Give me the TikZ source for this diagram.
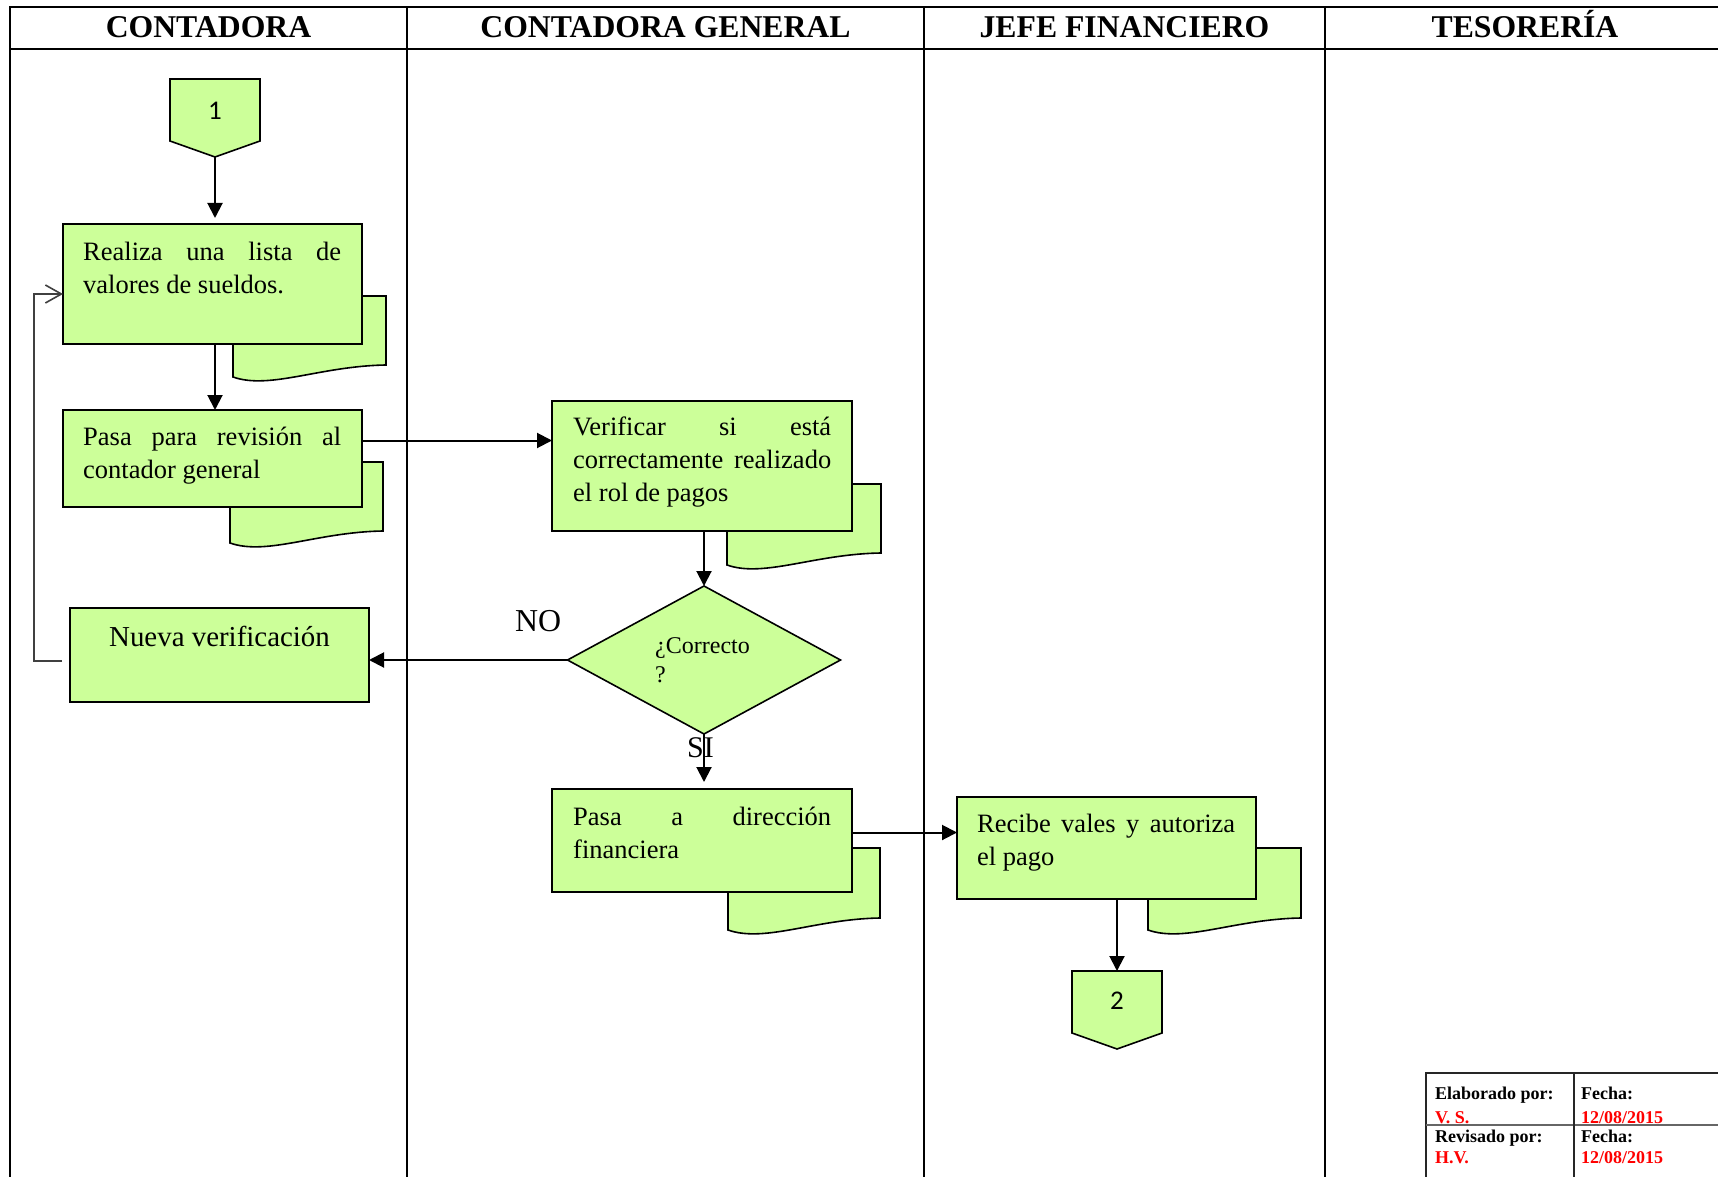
\documentclass[tikz,border=0pt]{standalone}
\usepackage{fontspec}
\setmainfont{Liberation Serif}
\newfontfamily\numfont{Carlito}
\usetikzlibrary{shapes.geometric,arrows.meta}
\definecolor{lgreen}{RGB}{204,255,153}
\newcommand\docshadow[4]{\draw[docst] ({#1},{#3}) -- ({#2},{#3}) -- ({#2},{#4-12}) .. controls ({#1+87},{#4-11}) and ({#1+37},{#4+13}) .. ({#1},{#4}) -- cycle;}
\begin{document}
\begin{tikzpicture}[x=1pt,y=-1pt,
  lane/.style={line width=2pt},
  box/.style={draw, fill=lgreen, line width=1.6pt, inner sep=0, outer sep=0, anchor=north west},
  docst/.style={draw, fill=lgreen, line width=1.6pt},
  txt/.style={text width=258pt, align=justify, inner sep=0, anchor=base west, font=\fontsize{26.5}{33}\selectfont},
  hdr/.style={anchor=base, inner sep=0, font=\fontsize{31.7}{38}\selectfont\bfseries},
  arr/.style={line width=2pt, -{Triangle[length=15pt,width=15pt]}},
  loopln/.style={line width=1.4pt, black!75, -{Straight Barb[length=16pt,width=18pt,line width=1.6pt]}},
  conn/.style={draw, fill=lgreen, line width=1.6pt},
  connbox/.style={minimum width=90pt, minimum height=78pt, inner sep=0, outer sep=0},
  num/.style={font=\numfont\fontsize{27}{30}\selectfont, inner sep=0},
  tab/.style={anchor=base west, inner sep=0, font=\fontsize{18}{20}\selectfont\bfseries},
  lbl/.style={anchor=base west, inner sep=0},
]
\fill[white] (0,0) rectangle (1718,1177);
\useasboundingbox (0,0) rectangle (1718,1177);
\clip (0,0) rectangle (1718,1177);

% lanes
\draw[lane] (10,1190) -- (10,7.5) -- (1730,7.5);
\draw[lane] (10,49) -- (1730,49);
\draw[lane] (407,7.5) -- (407,1190);
\draw[lane] (924,7.5) -- (924,1190);
\draw[lane] (1325,7.5) -- (1325,1190);
\node[hdr] (h1) at (208.5,38) {CONTADORA};
\node[hdr] (h2) at (665.5,38) {CONTADORA GENERAL};
\node[hdr] (h3) at (1124.5,38) {JEFE FINANCIERO};
\node[hdr] (h4) at (1525,38) {TESORERÍA};

% document shadows
\docshadow{233}{386}{296}{377}
\docshadow{230}{383}{462}{543}
\docshadow{727}{881}{484}{565}
\docshadow{728}{880}{848}{930}
\docshadow{1148}{1301}{848}{930}

% boxes
\node[box, minimum width=299pt, minimum height=120pt] (b1) at (63,224) {};
\node[box, minimum width=299pt, minimum height=97pt] (b2) at (63,410) {};
\node[box, minimum width=300pt, minimum height=130pt] (ver) at (552,401) {};
\node[box, minimum width=300pt, minimum height=103pt] (pa) at (552,789) {};
\node[box, minimum width=299pt, minimum height=102pt] (rec) at (957,797) {};
\node[box, minimum width=299pt, minimum height=94pt] (nv) at (70,608) {};

\node[txt] (t1) at ([shift={(20,36)}]b1.north west) {Realiza una lista de\linebreak valores de sueldos.};
\node[txt] (t2) at ([shift={(20,35)}]b2.north west) {Pasa para revisión al\linebreak contador general};
\node[txt] (t3) at ([shift={(21,34)}]ver.north west) {Verificar si está\linebreak correctamente realizado\linebreak el rol de pagos};
\node[txt] (t4) at ([shift={(21,36)}]pa.north west) {Pasa a dirección\linebreak financiera};
\node[txt] (t5) at ([shift={(20,35)}]rec.north west) {Recibe vales y autoriza\linebreak el pago};
\node[anchor=base, inner sep=0, font=\fontsize{28.9}{34}\selectfont] (t6) at ([shift={(0,38)}]nv.north) {Nueva verificación};

% decision
\node[draw, fill=lgreen, shape=diamond, minimum width=273pt, minimum height=148pt, inner sep=0, outer sep=0, line width=1.6pt] (dia) at (704,660) {};
\node[lbl, text width=100pt, align=left, font=\fontsize{24}{29}\selectfont] (tdia) at (655,653) {¿Correcto\\?};
\node[lbl, font=\fontsize{31.9}{36}\selectfont] (lno) at (515,631) {NO};
\node[lbl, font=\fontsize{30}{34}\selectfont] (lsi) at (687,757) {SI};

% off-page connectors
\node[connbox] (c1) at (215,118) {};
\draw[conn] (c1.north west) -- (c1.north east) -- ([shift={(0,-16)}]c1.south east) -- (c1.south) -- ([shift={(0,-16)}]c1.south west) -- cycle;
\node[num] (n1) at ([shift={(0,32)}]c1.north) {1};
\node[connbox] (c2) at (1117,1010) {};
\draw[conn] (c2.north west) -- (c2.north east) -- ([shift={(0,-16)}]c2.south east) -- (c2.south) -- ([shift={(0,-16)}]c2.south west) -- cycle;
\node[num] (n2) at ([shift={(0,30)}]c2.north) {2};

% connectors
\draw[arr, shorten >=6pt] (c1.south) -- (c1.south |- b1.north);
\draw[arr] (c1.south |- b1.south) -- (c1.south |- b2.north);
\coordinate (a3) at ([shift={(0,-18)}]b2.east);
\draw[arr] (a3) -- (a3 -| ver.west);
\draw[arr] (dia.north |- ver.south) -- (dia.north);
\draw[arr] (dia.west) -- (dia.west -| nv.east);
\draw[arr, shorten >=7pt] (dia.south) -- (dia.south |- pa.north);
\coordinate (a7) at ([shift={(0,-8)}]pa.east);
\draw[arr] (a7) -- (a7 -| rec.west);
\draw[arr] (c2.north |- rec.south) -- (c2.north);
\coordinate (l1) at ([shift={(-8,6)}]nv.west);
\coordinate (l2) at ([shift={(0,10)}]b1.west);
\draw[loopln] (l1) -- ++(-28,0) |- (l2);

% sign-off table
\node[tab] (e1) at (1435,1099) {Elaborado por:};
\node[tab, red] (e2) at (1435,1123) {V. S.};
\node[tab] (e3) at (1581,1099) {Fecha:};
\node[tab, red] (e4) at (1581,1123) {12/08/2015};
\node[tab] (r1) at (1435,1142) {Revisado por:};
\node[tab, red] (r2) at (1435,1163) {H.V.};
\node[tab] (r3) at (1581,1142) {Fecha:};
\node[tab, red] (r4) at (1581,1163) {12/08/2015};
\draw[line width=2pt, black!85] (1426,1190) -- (1426,1073) -- (1730,1073);
\draw[line width=2pt, black!60] (1426,1125) -- (1730,1125);
\draw[line width=2pt, black!85] (1574,1073) -- (1574,1190);
\end{tikzpicture}
\end{document}
